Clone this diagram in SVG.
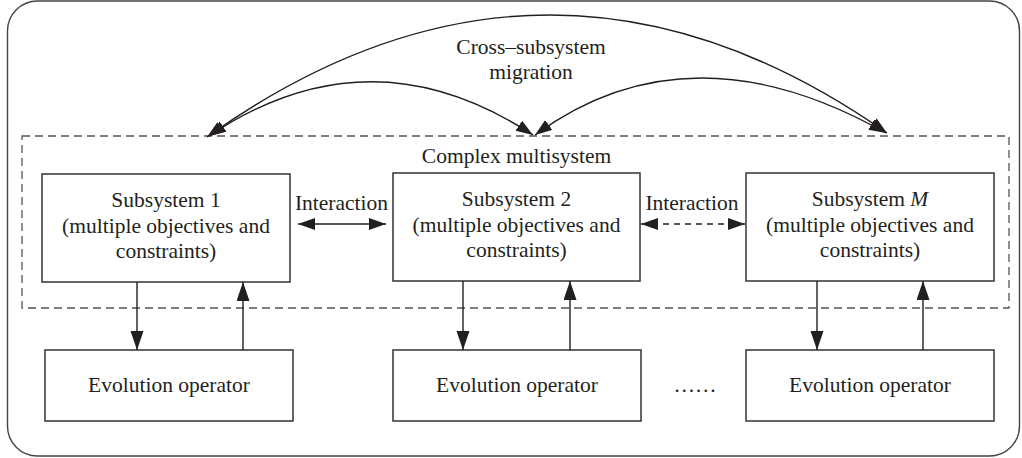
<svg xmlns="http://www.w3.org/2000/svg" width="1022" height="458" viewBox="0 0 1022 458">
<style>
.t{font-family:"Liberation Serif","Times New Roman",serif;font-size:21.5px;fill:#231f20;text-anchor:middle}
.box{fill:#fff;stroke:#333;stroke-width:1.5}
.ln{fill:none;stroke:#231f20;stroke-width:1.4}
.dash{stroke-dasharray:6,5}
</style>
<defs>
<marker id="ah" markerUnits="userSpaceOnUse" markerWidth="18" markerHeight="13" refX="17" refY="6" orient="auto-start-reverse">
<path d="M0,0 L17,6 L0,12 z" fill="#231f20"/>
</marker>
<marker id="av" markerUnits="userSpaceOnUse" markerWidth="20" markerHeight="14" refX="19" refY="6.5" orient="auto-start-reverse">
<path d="M0,0 L19,6.5 L0,13 z" fill="#231f20"/>
</marker>
</defs>
<rect id="frame" x="7.5" y="1" width="1012" height="455" rx="30" ry="30" fill="#fff" stroke="#444" stroke-width="1.4"/>
<g id="complex-multisystem">
<rect x="22" y="136" width="987" height="172" fill="none" stroke="#555" stroke-width="1.3" stroke-dasharray="8,5"/>
<text class="t" x="516.5" y="163">Complex multisystem</text>
</g>
<g id="migration-label">
<text class="t" x="531" y="54">Cross–subsystem</text>
<text class="t" x="531" y="79">migration</text>
</g>
<g id="subsystem1">
<rect class="box" x="42" y="174" width="248" height="108"/>
<text class="t" x="166" y="207">Subsystem 1</text>
<text class="t" x="166" y="232.5">(multiple objectives and</text>
<text class="t" x="166" y="257.5">constraints)</text>
</g>
<g id="subsystem2">
<rect class="box" x="393" y="173" width="247" height="108"/>
<text class="t" x="516.5" y="206">Subsystem 2</text>
<text class="t" x="516.5" y="231.5">(multiple objectives and</text>
<text class="t" x="516.5" y="256.5">constraints)</text>
</g>
<g id="subsystemM">
<rect class="box" x="746" y="173" width="248" height="108"/>
<text class="t" x="870" y="206">Subsystem <tspan font-style="italic">M</tspan></text>
<text class="t" x="870" y="231.5">(multiple objectives and</text>
<text class="t" x="870" y="256.5">constraints)</text>
</g>
<g id="evolution1">
<rect class="box" x="45" y="350" width="248" height="71"/>
<text class="t" x="169" y="392">Evolution operator</text>
</g>
<g id="evolution2">
<rect class="box" x="393" y="350" width="248" height="71"/>
<text class="t" x="517" y="392">Evolution operator</text>
</g>
<g id="evolutionM">
<rect class="box" x="746" y="350" width="248" height="71"/>
<text class="t" x="870" y="392">Evolution operator</text>
</g>
<g id="ellipsis">
<text class="t" x="695" y="392">……</text>
</g>
<g id="interaction-labels">
<text class="t" x="341.5" y="210">Interaction</text>
<text class="t" x="692" y="210">Interaction</text>
</g>
<g id="connectors">
<path class="ln" d="M207,137 Q547,-105 887,133" marker-start="url(#ah)" marker-end="url(#ah)"/>
<path class="ln" d="M209,136 Q370,28 533,135" marker-start="url(#ah)" marker-end="url(#ah)"/>
<path class="ln" d="M535,135 Q689.5,22 886,133" marker-start="url(#ah)" marker-end="url(#ah)"/>
<path class="ln" d="M298,224 L386,224" marker-start="url(#ah)" marker-end="url(#ah)"/>
<path class="ln dash" d="M641,224 L745,224" marker-start="url(#ah)" marker-end="url(#ah)"/>
<path class="ln" d="M137,282 L137,350" marker-end="url(#av)"/>
<path class="ln" d="M243,350 L243,282" marker-end="url(#av)"/>
<path class="ln" d="M463,281 L463,350" marker-end="url(#av)"/>
<path class="ln" d="M570,350 L570,281" marker-end="url(#av)"/>
<path class="ln" d="M817,281 L817,350" marker-end="url(#av)"/>
<path class="ln" d="M923,350 L923,281" marker-end="url(#av)"/>
</g>
</svg>
